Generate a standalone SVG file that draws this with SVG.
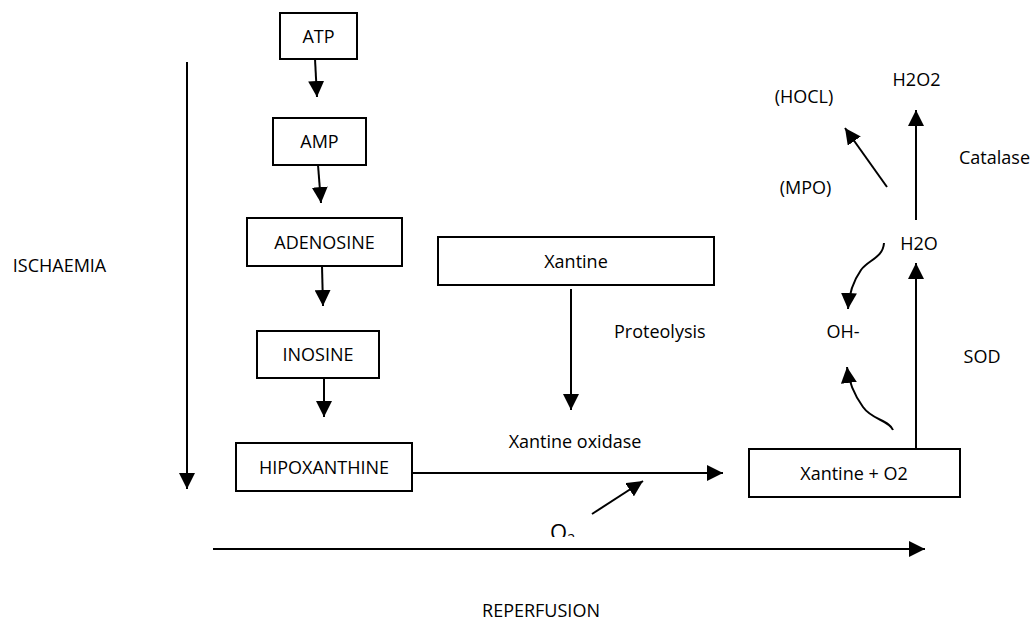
<svg xmlns="http://www.w3.org/2000/svg" width="1034" height="621" viewBox="0 0 1034 621">
<style>
.box{fill:#fff;stroke:#000;stroke-width:2}
.t{font-family:"Open Sans","Liberation Sans",sans-serif;font-size:18px;fill:#000}
.c{text-anchor:middle}
.ln{fill:none;stroke:#000;stroke-width:2;marker-end:url(#ah)}
</style>
<defs>
<marker id="ah" markerUnits="userSpaceOnUse" markerWidth="16" markerHeight="16" viewBox="0 0 16 16" refX="16" refY="8" orient="auto">
<path d="M0,0 L16,8 L0,16 z" fill="#000"/>
</marker>
<clipPath id="o2clip"><rect x="540" y="515" width="50" height="22"/></clipPath>
</defs>
<rect width="1034" height="621" fill="#fff"/>
<g id="connectors">
<line class="ln" x1="315" y1="59" x2="317" y2="97"/>
<line class="ln" x1="318" y1="165" x2="321" y2="203"/>
<line class="ln" x1="322" y1="266" x2="323" y2="306"/>
<line class="ln" x1="324" y1="378" x2="324" y2="417"/>
<line class="ln" x1="187" y1="62" x2="187" y2="489"/>
<line class="ln" x1="571" y1="289" x2="571" y2="410"/>
<line class="ln" x1="412" y1="473" x2="723" y2="473"/>
<line class="ln" x1="592" y1="514" x2="643" y2="481"/>
<line class="ln" x1="213" y1="549" x2="925" y2="549"/>
<line class="ln" x1="916" y1="449" x2="916" y2="263"/>
<line class="ln" x1="916" y1="220" x2="916" y2="110"/>
<line class="ln" x1="887" y1="187" x2="845" y2="128"/>
<path class="ln" d="M884,243 C883,258 868,260 861,270 C854,280 849,292 848,309"/>
<path class="ln" d="M893,430 C889,420 872,420 863,407 C855,396 849,384 847,367"/>
</g>
<g id="n-atp"><rect class="box" x="280" y="13" width="77" height="46"/><text class="t c" x="318.5" y="42.5">ATP</text></g>
<g id="n-amp"><rect class="box" x="273" y="118" width="93" height="47"/><text class="t c" x="319.5" y="148">AMP</text></g>
<g id="n-adenosine"><rect class="box" x="247" y="218" width="155" height="48"/><text class="t c" x="324.5" y="248.5">ADENOSINE</text></g>
<g id="n-inosine"><rect class="box" x="257" y="331" width="122" height="47"/><text class="t c" x="318" y="361">INOSINE</text></g>
<g id="n-hipoxanthine"><rect class="box" x="236" y="443" width="176" height="48"/><text class="t c" x="324" y="473.5">HIPOXANTHINE</text></g>
<g id="n-xantine"><rect class="box" x="438" y="237" width="276" height="48"/><text class="t c" x="576" y="267.5">Xantine</text></g>
<g id="n-xantine-o2"><rect class="box" x="749" y="449" width="211" height="48"/><text class="t c" x="854" y="479.5">Xantine + O2</text></g>
<g id="labels">
<text class="t c" x="59.5" y="272">ISCHAEMIA</text>
<text class="t" x="614" y="337.5">Proteolysis</text>
<text class="t c" x="575" y="447.5">Xantine oxidase</text>
<text class="t c" x="541" y="617">REPERFUSION</text>
<text class="t c" x="916.5" y="85.5">H2O2</text>
<text class="t c" x="804" y="102.5">(HOCL)</text>
<text class="t" x="959" y="163.5">Catalase</text>
<text class="t c" x="805.5" y="193.5">(MPO)</text>
<text class="t c" x="919" y="250">H2O</text>
<text class="t c" x="843" y="337.5">OH-</text>
<text class="t c" x="982" y="362.5">SOD</text>
<g clip-path="url(#o2clip)"><text class="t" x="550" y="540" style="font-size:22px">O<tspan style="font-size:14px" dy="4">2</tspan></text></g>
</g>
</svg>
